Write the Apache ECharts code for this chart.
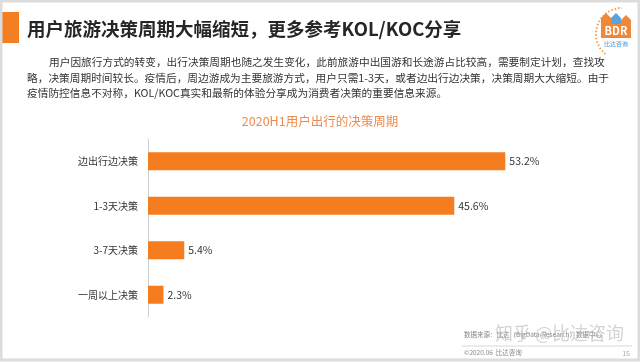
<!DOCTYPE html>
<html>
<head>
<meta charset="utf-8">
<script src="https://cdn.jsdelivr.net/npm/echarts@6/dist/echarts.min.js"></script>
<style>
html,body{margin:0;padding:0;background:#fff;}
#c{width:640px;height:362px;}
</style>
</head>
<body>
<div id="c"></div>
<script>
var categories = ['边出行边决策', '1-3天决策', '3-7天决策', '一周以上决策'];
var values = [53.2, 45.6, 5.4, 2.3];
var pageTitle = '用户旅游决策周期大幅缩短，更多参考KOL/KOC分享';
var chartTitle = '2020H1用户出行的决策周期';
var paragraph = [
  '用户因旅行方式的转变，出行决策周期也随之发生变化，此前旅游中出国游和长途游占比较高，需要制定计划，查找攻',
  '略，决策周期时间较长。疫情后，周边游成为主要旅游方式，用户只需1-3天，或者边出行边决策，决策周期大大缩短。由于',
  '疫情防控信息不对称，KOL/KOC真实和最新的体验分享成为消费者决策的重要信息来源。'
];
var sourceText = '数据来源：比达（BigData-Research）数据中心';
var footerText = '©2020.06  比达咨询';
var pageNo = '15';
var watermark = '知乎 @比达咨询';

var FONT = '"Noto Sans CJK SC", "Noto Sans", sans-serif';
var chart = echarts.init(document.getElementById('c'), null, {renderer: 'canvas'});

var graphics = [
  {type: 'rect', shape: {x: 1, y: 1, width: 638, height: 359}, style: {fill: 'none', stroke: '#dcdcdc', lineWidth: 3}, z: 10},
  {type: 'rect', shape: {x: 2, y: 12, width: 17, height: 31}, style: {fill: '#F47F22'}},
  {type: 'text', x: 27, y: 29, style: {text: pageTitle, font: 'bold 18.5px ' + FONT, fill: '#262626', textVerticalAlign: 'middle'}},
  {type: 'text', x: 49, y: 62, style: {text: paragraph[0], font: '10.7px ' + FONT, fill: '#333', textVerticalAlign: 'middle'}},
  {type: 'text', x: 27, y: 77.5, style: {text: paragraph[1], font: '10.7px ' + FONT, fill: '#333', textVerticalAlign: 'middle'}},
  {type: 'text', x: 27, y: 93, style: {text: paragraph[2], font: '10.7px ' + FONT, fill: '#333', textVerticalAlign: 'middle'}},
  // logo
  {type: 'arc', shape: {cx: 622, cy: 34, r: 26, startAngle: Math.PI * 0.72, endAngle: Math.PI * 1.5}, style: {stroke: '#F4A04A', lineWidth: 2, lineDash: [1.5, 2], fill: 'none'}},
  {type: 'polygon', shape: {points: [[601, 38], [601, 18], [606, 13], [611, 18], [611, 38]]}, style: {fill: '#F0883A'}},
  {type: 'polygon', shape: {points: [[611, 38], [611, 18], [616, 13], [621, 18], [621, 38]]}, style: {fill: '#5BA3DC'}},
  {type: 'polygon', shape: {points: [[621, 38], [621, 20], [626, 15], [631, 20], [631, 38]]}, style: {fill: '#F0883A'}},
  {type: 'rect', shape: {x: 601, y: 24, width: 30, height: 13}, style: {fill: '#F0883A'}},
  {type: 'text', x: 616, y: 31, style: {text: 'BDR', font: 'bold 11px ' + FONT, fill: '#fff', textAlign: 'center', textVerticalAlign: 'middle'}},
  {type: 'text', x: 616, y: 44, style: {text: '比达咨询', font: '6px ' + FONT, fill: '#4D97D6', textAlign: 'center', textVerticalAlign: 'middle'}},
  // footer
  {type: 'text', x: 464, y: 335, style: {text: sourceText, font: '6.5px ' + FONT, fill: '#888', textVerticalAlign: 'middle'}},
  {type: 'text', x: 495, y: 333, style: {text: watermark, font: '18px ' + FONT, fill: 'rgba(170,170,170,0.5)', textVerticalAlign: 'middle'}},
  {type: 'line', shape: {x1: 462, y1: 346, x2: 632, y2: 346}, style: {stroke: '#d8d8d8', lineWidth: 1}},
  {type: 'text', x: 464, y: 353, style: {text: footerText, font: '6.5px ' + FONT, fill: '#888', textVerticalAlign: 'middle'}},
  {type: 'text', x: 630, y: 353, style: {text: pageNo, font: '7px ' + FONT, fill: '#aaa', textAlign: 'right', textVerticalAlign: 'middle'}}
];

chart.setOption({
  animation: false,
  backgroundColor: '#fff',
  title: {
    text: chartTitle,
    left: 'center',
    top: 110,
    textStyle: {color: '#EE8A4E', fontSize: 12.5, fontWeight: 'normal', fontFamily: FONT}
  },
  grid: {left: 148, top: 139, width: 403, height: 178, containLabel: false},
  xAxis: {
    type: 'value', min: 0, max: 60, show: false, splitLine: {show: false}
  },
  yAxis: {
    type: 'category',
    data: categories,
    inverse: true,
    axisLine: {show: true, lineStyle: {color: '#cfcfcf', width: 1}},
    axisTick: {show: false},
    axisLabel: {color: '#333', fontSize: 10, fontFamily: FONT, margin: 10}
  },
  series: [{
    type: 'bar',
    data: values,
    barWidth: 18,
    itemStyle: {color: '#F57D1F'},
    label: {
      show: true, position: 'right', distance: 4,
      formatter: function (p) { return p.value.toFixed(1) + '%'; },
      color: '#333', fontSize: 10.5, fontFamily: FONT
    }
  }],
  graphic: graphics
});
</script>
</body>
</html>
